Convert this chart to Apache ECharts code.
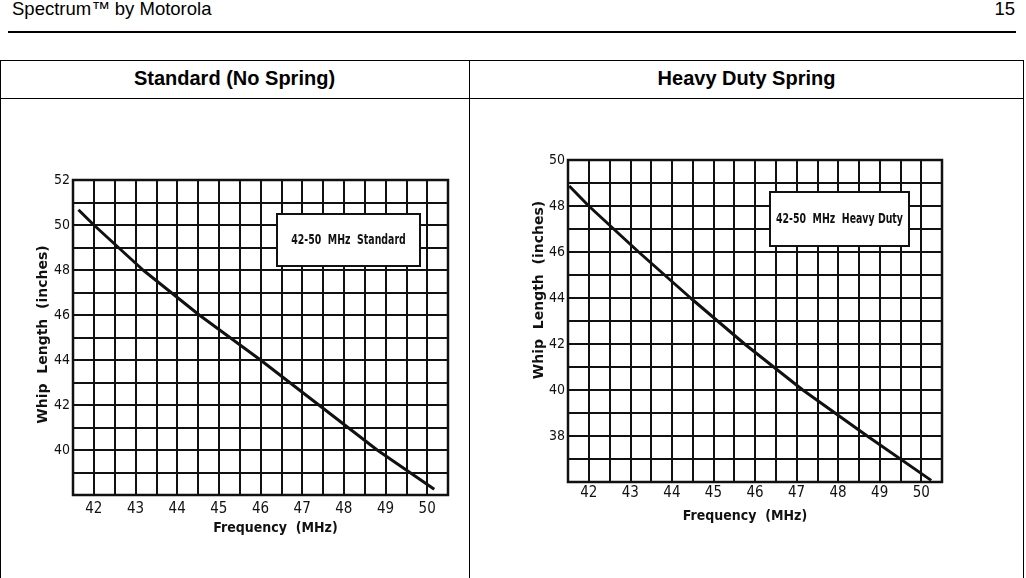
<!DOCTYPE html>
<html>
<head>
<meta charset="utf-8">
<script src="https://cdn.jsdelivr.net/npm/echarts@6/dist/echarts.min.js"></script>
<style>
  html, body { margin: 0; padding: 0; background: #fff; }
  body { width: 1026px; height: 578px; position: relative; overflow: hidden; font-family: 'Liberation Sans', Arial, sans-serif; }
  .hdr { position: absolute; top: 0; font-size: 18.5px; color: #000; line-height: 18px; }
  .rule { position: absolute; left: 8px; width: 1008px; top: 31px; height: 2px; background: #000; }
  .ln { position: absolute; background: #000; }
  .th { position: absolute; top: 60px; height: 38px; line-height: 36px; text-align: center; font-weight: bold; font-size: 20px; color: #000; }
  #chart { position: absolute; left: 0; top: 0; width: 1026px; height: 578px; }
</style>
</head>
<body>
<div class="hdr" style="left:12px;">Spectrum™ by Motorola</div>
<div class="hdr" style="right:11px;">15</div>
<div class="rule"></div>
<!-- table frame -->
<div class="ln" style="left:0;top:60px;width:1024px;height:1px;"></div>
<div class="ln" style="left:0;top:98px;width:1024px;height:1px;"></div>
<div class="ln" style="left:0;top:60px;width:1px;height:518px;"></div>
<div class="ln" style="left:469px;top:60px;width:1px;height:518px;"></div>
<div class="ln" style="left:1023px;top:60px;width:1px;height:518px;"></div>
<div class="th" style="left:0;width:469px;">Standard (No Spring)</div>
<div class="th" style="left:470px;width:553px;">Heavy Duty Spring</div>
<div id="chart"></div>
<script>
// ---- data ----
const xTickLabels = [42, 43, 44, 45, 46, 47, 48, 49, 50];
const standardYTicks = [40, 42, 44, 46, 48, 50, 52];
const heavyYTicks = [38, 40, 42, 44, 46, 48, 50];
const standardFreq = [41.63, 42.0, 43.18, 44.53, 46.0, 47.4, 48.8, 50.17];
const standardLength = [50.68, 50, 48, 46, 44, 42, 40, 38.26];
const heavyFreq = [41.53, 42.0, 43.2, 44.45, 45.75, 47.15, 48.7, 50.24];
const heavyLength = [48.87, 48, 46, 44, 42, 40, 38, 36.07];
const standardLabel = '42-50  MHz  Standard';
const heavyLabel = '42-50  MHz  Heavy Duty';
const xName = 'Frequency  (MHz)';
const yName = 'Whip  Length  (inches)';

const FONT = "'Liberation Sans Narrow', 'DejaVu Sans Condensed', sans-serif";
const INK = '#111';

function pairs(xs, ys) { return xs.map((x, i) => [x, ys[i]]); }

function xAxisCfg(gridIndex, margin, namePad, nameGap) {
  return {
    type: 'value', gridIndex, min: 41.5, max: 50.5, interval: 0.5,
    name: xName, nameLocation: 'middle', nameGap, nameMoveOverlap: false,
    nameTextStyle: { fontFamily: FONT, fontWeight: 'bold', fontSize: 14, color: INK, padding: namePad },
    axisLine: { show: false }, axisTick: { show: false },
    axisLabel: { margin, fontFamily: FONT, fontSize: 15, color: INK,
      formatter: v => xTickLabels.includes(Math.round(v * 100) / 100) ? String(v) : '' },
    splitLine: { show: true, lineStyle: { color: INK, width: 2 } }
  };
}
function yAxisCfg(gridIndex, min, max, ticks, namePad, nameGap) {
  return {
    type: 'value', gridIndex, min, max, interval: 1,
    name: yName, nameLocation: 'middle', nameGap, nameMoveOverlap: false,
    nameTextStyle: { fontFamily: "'DejaVu Sans', sans-serif", fontWeight: 'bold', fontSize: 14, color: INK, padding: namePad },
    axisLine: { show: false }, axisTick: { show: false },
    axisLabel: { margin: 3, fontFamily: FONT, fontSize: 14, color: INK,
      formatter: v => ticks.includes(v) ? String(v) : '' },
    splitLine: { show: true, lineStyle: { color: INK, width: 2 } }
  };
}

function labelBox(x, y, w, h, text) {
  return {
    type: 'group', left: x, top: y,
    children: [
      { type: 'rect', shape: { x: 0, y: 0, width: w, height: h },
        style: { fill: '#fff', stroke: INK, lineWidth: 2 }, z: 100 },
      { type: 'text', x: w / 2, y: h / 2, scaleX: 0.72, z: 101,
        style: { text, fill: INK, font: "bold 14.5px " + FONT, align: 'center', verticalAlign: 'middle' } }
    ]
  };
}

const chart = echarts.init(document.getElementById('chart'), null, { renderer: 'canvas' });
chart.setOption({
  animation: false,
  grid: [
    { left: 73, top: 180, width: 375, height: 315, show: true, borderColor: INK, borderWidth: 2.5, backgroundColor: 'transparent' },
    { left: 568, top: 160, width: 374, height: 322, show: true, borderColor: INK, borderWidth: 2.5, backgroundColor: 'transparent' }
  ],
  xAxis: [ xAxisCfg(0, 7, [0, 0, 0, 30], 26), xAxisCfg(1, 4, [0, 20, 0, 0], 27) ],
  yAxis: [ yAxisCfg(0, 38, 52, standardYTicks, [0, 0, 0, 6], 23), yAxisCfg(1, 36, 50, heavyYTicks, [0, 0, 0, 62], 22) ],
  series: [
    { type: 'line', xAxisIndex: 0, yAxisIndex: 0, data: pairs(standardFreq, standardLength),
      showSymbol: false, lineStyle: { color: '#111', width: 3 }, z: 5 },
    { type: 'line', xAxisIndex: 1, yAxisIndex: 1, data: pairs(heavyFreq, heavyLength),
      showSymbol: false, lineStyle: { color: '#111', width: 3 }, z: 5 }
  ],
  graphic: [
    labelBox(276, 213, 143, 52, standardLabel),
    labelBox(769, 191, 139, 54, heavyLabel)
  ]
});
</script>
</body>
</html>
